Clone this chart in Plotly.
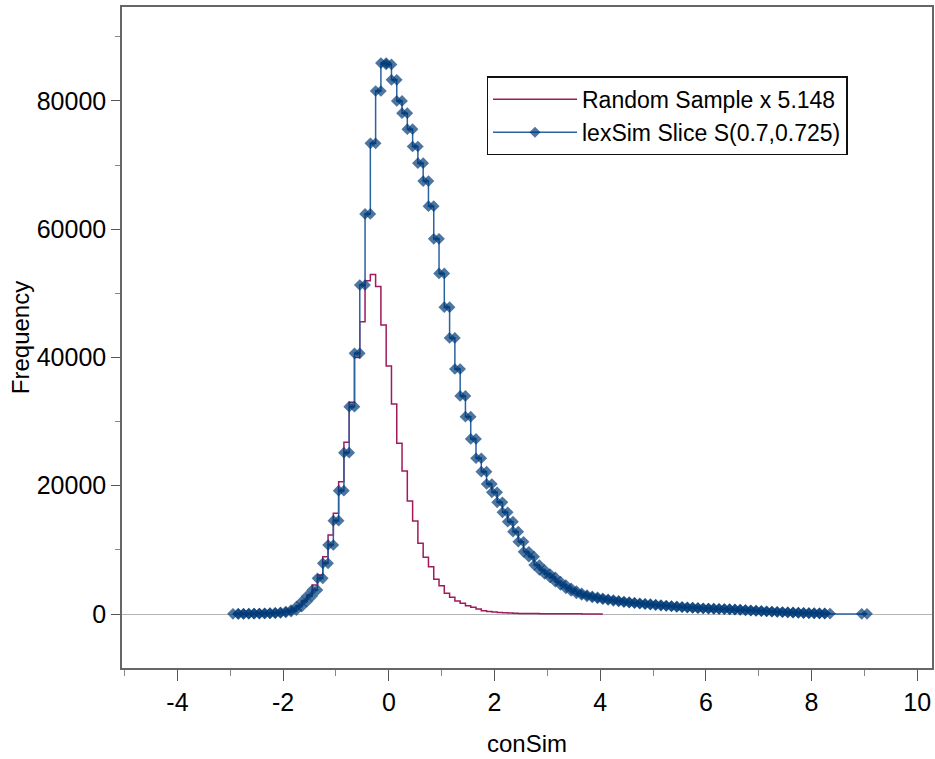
import numpy as np
import plotly.graph_objects as go

# bin centres (width 0.1)
bin_width = 0.1

lex_start = -2.9
lex_freq = [
    30, 30, 40, 50, 60, 80, 100, 130, 180, 250,              # -2.9 .. -2.0
    380, 620, 1140, 1920, 2800, 3740, 5560, 7900, 10760, 14550,  # -1.9 .. -1.0
    19230, 25150, 32330, 40650, 51300, 62380, 73400, 81550, 85900,  # -0.9 .. -0.1
    85700, 83300, 80000, 78100, 75600, 72900, 70300, 67500, 63600, 58500,  # 0.0 .. 0.9
    53100, 47850, 43050, 38200, 34000, 30770, 27300, 24290, 22200, 20270,  # 1.0 .. 1.9
    18980, 17420, 15860, 14390, 12830, 11270, 9700, 8940, 7640, 6860,      # 2.0 .. 2.9
    6240, 5720, 5040, 4520, 4000, 3590, 3220, 2960, 2750, 2600,            # 3.0 .. 3.9
    2450, 2300, 2180, 2060, 1950, 1850, 1760, 1680, 1600, 1530,            # 4.0 .. 4.9
    1460, 1390, 1320, 1250, 1180, 1110, 1050, 1000, 950, 900,              # 5.0 .. 5.9
    860, 830, 800, 780, 760, 720, 680, 630, 580, 530,                      # 6.0 .. 6.9
    480, 430, 390, 350, 310, 270, 240, 210, 180, 150,                      # 7.0 .. 7.9
    130, 110, 90, 70, None, None, None, None, None, None,                  # 8.0 .. 8.9
    20,                                                                    # 9.0
]

rand_start = -2.9
rand_freq = [
    40, 50, 60, 70, 90, 110, 140, 180, 250, 340,              # -2.9 .. -2.0
    480, 780, 1300, 2100, 2960, 4520, 6080, 8940, 12320, 15700,  # -1.9 .. -1.0
    20630, 26780, 33000, 40000, 45590, 51980, 52920, 51050, 45070,  # -0.9 .. -0.1
    38670, 32750, 26620, 22300, 17620, 14500, 11030, 8840, 7380, 5410,  # 0.0 .. 0.9
    4420, 3220, 2600, 2030, 1660, 1300, 1040, 780, 520, 400,             # 1.0 .. 1.9
    300, 230, 180, 140, 110, 90, 80, 70, 60, 50,                         # 2.0 .. 2.9
    45, 40, 35, 30, 25, 20, 20, 15, 15, 10,                              # 3.0 .. 3.9
    10,                                                                  # 4.0
]

x_ticks = [-4, -2, 0, 2, 4, 6, 8, 10]
x_tick_labels = ["-4", "-2", "0", "2", "4", "6", "8", "10"]
y_ticks = [0, 20000, 40000, 60000, 80000]


def step_points(start, values):
    # both edges of every bin, so the step is flat across the bin
    xs, ys = [], []
    for i, v in enumerate(values):
        c = start + i * bin_width
        xs += [c - bin_width / 2, c + bin_width / 2]
        ys += [v, v]
    return np.round(xs, 3), ys


lex_x, lex_y = step_points(lex_start, lex_freq)
lex_sizes = [0 if v is None else 9 for v in lex_y]
lex_y = [0 if v is None else v for v in lex_y]

rand_x, rand_y = step_points(rand_start, rand_freq)

fig = go.Figure()

fig.add_trace(go.Scatter(
    x=rand_x, y=rand_y,
    mode="lines",
    line=dict(color="#a01a5c", width=1.5, shape="hv"),
    name="Random Sample x 5.148",
))

fig.add_trace(go.Scatter(
    x=lex_x, y=lex_y,
    mode="lines+markers",
    line=dict(color="#2a63a3", width=1.5, shape="hv"),
    marker=dict(symbol="diamond", size=lex_sizes, color="#003a78",
                line=dict(width=0)),
    name="lexSim Slice S(0.7,0.725)",
))

tick_font = dict(family="Liberation Sans, Arial, sans-serif", size=25, color="#000000")
title_font = dict(family="Liberation Sans, Arial, sans-serif", size=24, color="#000000")

fig.update_xaxes(
    range=[-5.05, 10.28],
    tickvals=x_ticks, ticktext=x_tick_labels,
    ticks="outside", ticklen=11, tickcolor="#555555", tickwidth=1,
    minor=dict(dtick=1, tick0=0, ticks="outside", ticklen=6, tickcolor="#888888"),
    showline=True, linecolor="#666666", linewidth=1.5, mirror=True,
    showgrid=False, zeroline=False,
    tickfont=tick_font, automargin=False,
    title=dict(text="conSim", font=title_font, standoff=20),
)

fig.update_yaxes(
    range=[-8420, 94650],
    tickvals=y_ticks,
    tickformat="d",
    ticks="outside", ticklen=9, tickcolor="#555555", tickwidth=1,
    minor=dict(dtick=10000, tick0=0, ticks="outside", ticklen=5, tickcolor="#888888"),
    showline=True, linecolor="#666666", linewidth=1.5, mirror=True,
    showgrid=False,
    zeroline=True, zerolinecolor="#b4b4b4", zerolinewidth=1.2,
    tickfont=tick_font, automargin=False,
    title=dict(text="Frequency", font=title_font, standoff=0),
)

fig.update_layout(
    width=935, height=759,
    margin=dict(l=122, r=3, t=7, b=91),
    plot_bgcolor="white", paper_bgcolor="white",
    font=dict(family="Liberation Sans, Arial, sans-serif"),
    legend=dict(
        x=0.45, y=0.895, xanchor="left", yanchor="top",
        bgcolor="white", bordercolor="#111111", borderwidth=1.5,
        font=dict(family="Liberation Sans, Arial, sans-serif", size=23, color="#000000"),
        itemwidth=84, tracegroupgap=0,
    ),
)

# drop the page's default body margin so the figure fills the window
fig.write_html("out.html", config={"displayModeBar": False},
               post_script="document.body.style.margin = '0';")
